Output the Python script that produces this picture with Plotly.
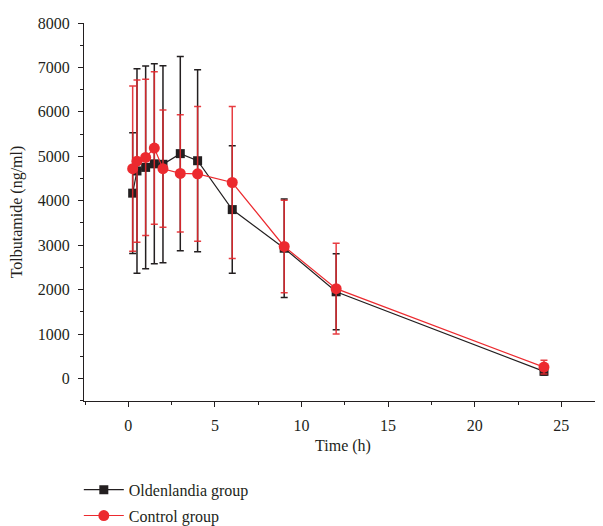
import plotly.graph_objects as go

# Sampling times (h)
time_h = [0.25, 0.5, 1, 1.5, 2, 3, 4, 6, 9, 12, 24]

# Oldenlandia group: mean and SD (ng/ml)
old_mean = [4170, 4670, 4750, 4830, 4820, 5060, 4900, 3800, 2930, 1950, 160]
old_sd = [1360, 2300, 2280, 2250, 2215, 2185, 2050, 1435, 1110, 855, 80]

# Control group: mean and SD (ng/ml)
ctrl_mean = [4720, 4890, 4975, 5185, 4720, 4615, 4605, 4410, 2970, 2020, 255]
ctrl_sd = [1860, 1825, 1760, 1715, 1320, 1320, 1515, 1710, 1040, 1020, 155]

x_ticks = [0, 5, 10, 15, 20, 25]
y_ticks = [0, 1000, 2000, 3000, 4000, 5000, 6000, 7000, 8000]

FONT = "Liberation Serif"
TXT = "#231f20"
BLACK = "#231f20"
RED = "#ec2a2f"

fig = go.Figure()

fig.add_trace(go.Scatter(
    x=time_h, y=old_mean, name="Oldenlandia group", legendgroup="a",
    mode="lines+markers",
    line=dict(color=BLACK, width=1.2),
    marker=dict(symbol="square", size=9, color=BLACK),
    error_y=dict(type="data", array=old_sd, visible=True,
                 color=BLACK, thickness=1.5, width=3.5),
))

fig.add_trace(go.Scatter(
    x=time_h, y=ctrl_mean, name="Control group", legendgroup="b",
    mode="lines+markers",
    line=dict(color=RED, width=1.2),
    marker=dict(symbol="circle", size=11, color=RED),
    error_y=dict(type="data", array=ctrl_sd, visible=True,
                 color="rgba(228,40,46,0.9)", thickness=1.5, width=3.5),
))

fig.update_layout(
    width=595, height=526,
    margin=dict(l=76, r=1, t=15, b=126),
    paper_bgcolor="white", plot_bgcolor="white",
    font=dict(family=FONT, size=16, color=TXT),
    showlegend=True,
    legend=dict(
        x=-0.01, y=-0.19, xanchor="left", yanchor="top",
        orientation="v", traceorder="grouped", tracegroupgap=2,
        itemwidth=40,
        font=dict(family=FONT, size=16, color=TXT),
        bgcolor="rgba(0,0,0,0)",
    ),
    xaxis=dict(
        range=[-2.56, 27.35],
        tickvals=x_ticks, ticktext=[str(v) for v in x_ticks],
        showline=True, linecolor=BLACK, linewidth=1,
        ticks="outside", ticklen=5, tickwidth=1, tickcolor=BLACK,
        minor=dict(dtick=2.5, tick0=0, ticks="outside", ticklen=3,
                   tickwidth=1, tickcolor=BLACK),
        showgrid=False, zeroline=False,
        tickfont=dict(family=FONT, size=16, color=TXT),
        ticklabelstandoff=5,
        title=dict(text="Time (h)", standoff=6,
                   font=dict(family=FONT, size=16, color=TXT)),
        automargin=False,
    ),
    yaxis=dict(
        range=[-508, 8000],
        tickvals=y_ticks, ticktext=[str(v) for v in y_ticks],
        showline=True, linecolor=BLACK, linewidth=1,
        ticks="outside", ticklen=5, tickwidth=1, tickcolor=BLACK,
        minor=dict(dtick=500, tick0=0, ticks="outside", ticklen=3,
                   tickwidth=1, tickcolor=BLACK),
        showgrid=False, zeroline=False,
        tickfont=dict(family=FONT, size=16, color=TXT),
        ticklabelstandoff=5,
        title=dict(text="Tolbutamide (ng/ml)", standoff=12,
                   font=dict(family=FONT, size=16, color=TXT)),
        automargin=False,
    ),
)

fig.write_html("out.html")
